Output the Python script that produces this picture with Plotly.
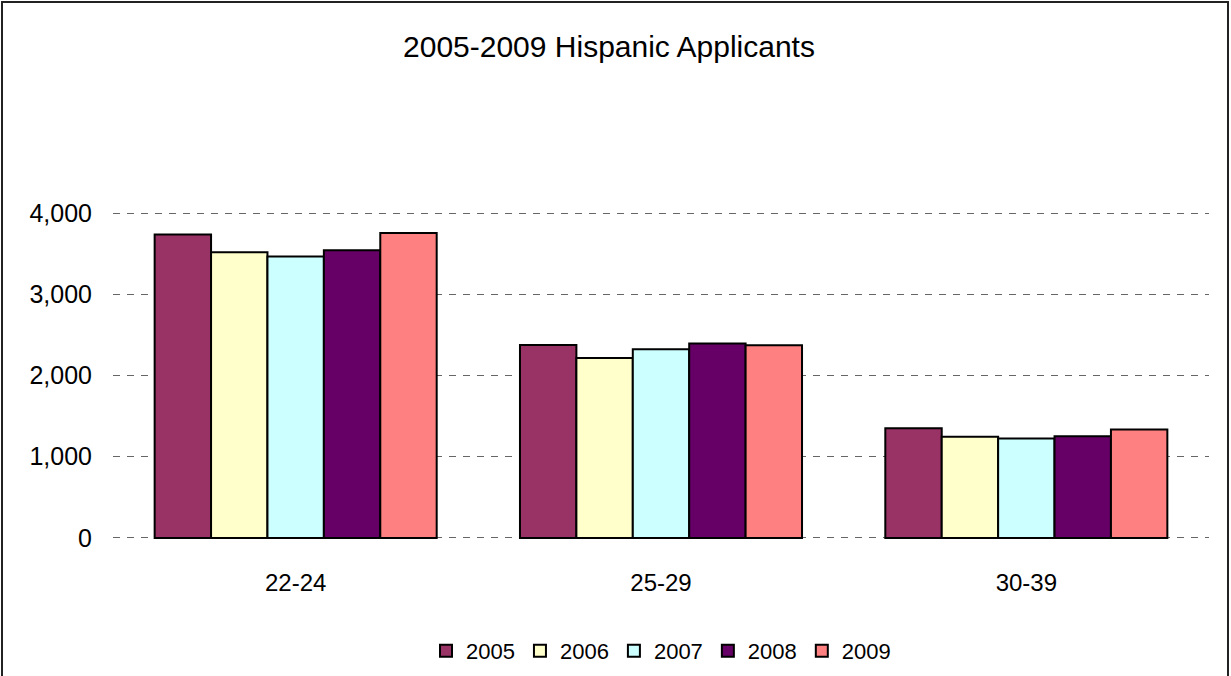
import plotly.graph_objects as go

# Hispanic applicants by age group, 2005-2009
age_groups = ["22-24", "25-29", "30-39"]
years = ["2005", "2006", "2007", "2008", "2009"]
applicants_2005 = [3735, 2375, 1351]
applicants_2006 = [3517, 2215, 1245]
applicants_2007 = [3464, 2322, 1224]
applicants_2008 = [3542, 2395, 1253]
applicants_2009 = [3754, 2371, 1334]
series = [applicants_2005, applicants_2006, applicants_2007, applicants_2008, applicants_2009]
colors = ["#993366", "#FFFFCC", "#CCFFFF", "#660066", "#FF8080"]
y_ticks = [0, 1000, 2000, 3000, 4000]

W, H = 1231, 676
L, R, T, B = 113, 22, 209, 134
plot_w, plot_h = W - L - R, H - T - B

fig = go.Figure()
for year, vals, col in zip(years, series, colors):
    fig.add_trace(go.Bar(
        name=year, x=age_groups, y=vals,
        marker=dict(color=col, line=dict(color="black", width=2)),
    ))

# outer chart border
fig.add_shape(
    type="rect", xref="paper", yref="paper",
    x0=(2 - L) / plot_w, x1=(1228 - L) / plot_w,
    y0=-(B + 20) / plot_h, y1=(H - B - 2) / plot_h,
    line=dict(color="#222222", width=2), fillcolor="rgba(0,0,0,0)", layer="above",
)

fig.update_layout(
    width=W, height=H,
    margin=dict(l=L, r=R, t=T, b=B, autoexpand=False),
    paper_bgcolor="white", plot_bgcolor="white",
    barmode="group", bargap=0.228, bargroupgap=0,
    font=dict(family="Liberation Sans, Arial, sans-serif", color="black", size=24),
    title=dict(text="2005-2009 Hispanic Applicants", x=609 / W, xanchor="center",
               y=1 - 46 / H, yanchor="middle", font=dict(size=30)),
    showlegend=True,
    legend=dict(orientation="h", xref="container", x=661 / W, xanchor="center",
                yref="container", y=1 - 651 / H, yanchor="middle",
                font=dict(size=22), itemwidth=30, tracegroupgap=0),
    xaxis=dict(showgrid=False, showline=False, ticks="", ticklabelstandoff=24,
               tickfont=dict(size=24), automargin=False),
    yaxis=dict(range=[-50, 4050], tickvals=y_ticks, tickformat=",",
               showgrid=True, gridcolor="#666666", griddash="7px,7px", gridwidth=1,
               zeroline=False,
               showline=False, ticks="", ticklabelstandoff=20,
               tickfont=dict(size=25), automargin=False),
)
fig.update_yaxes(layer="below traces")

fig.write_html("out.html")
